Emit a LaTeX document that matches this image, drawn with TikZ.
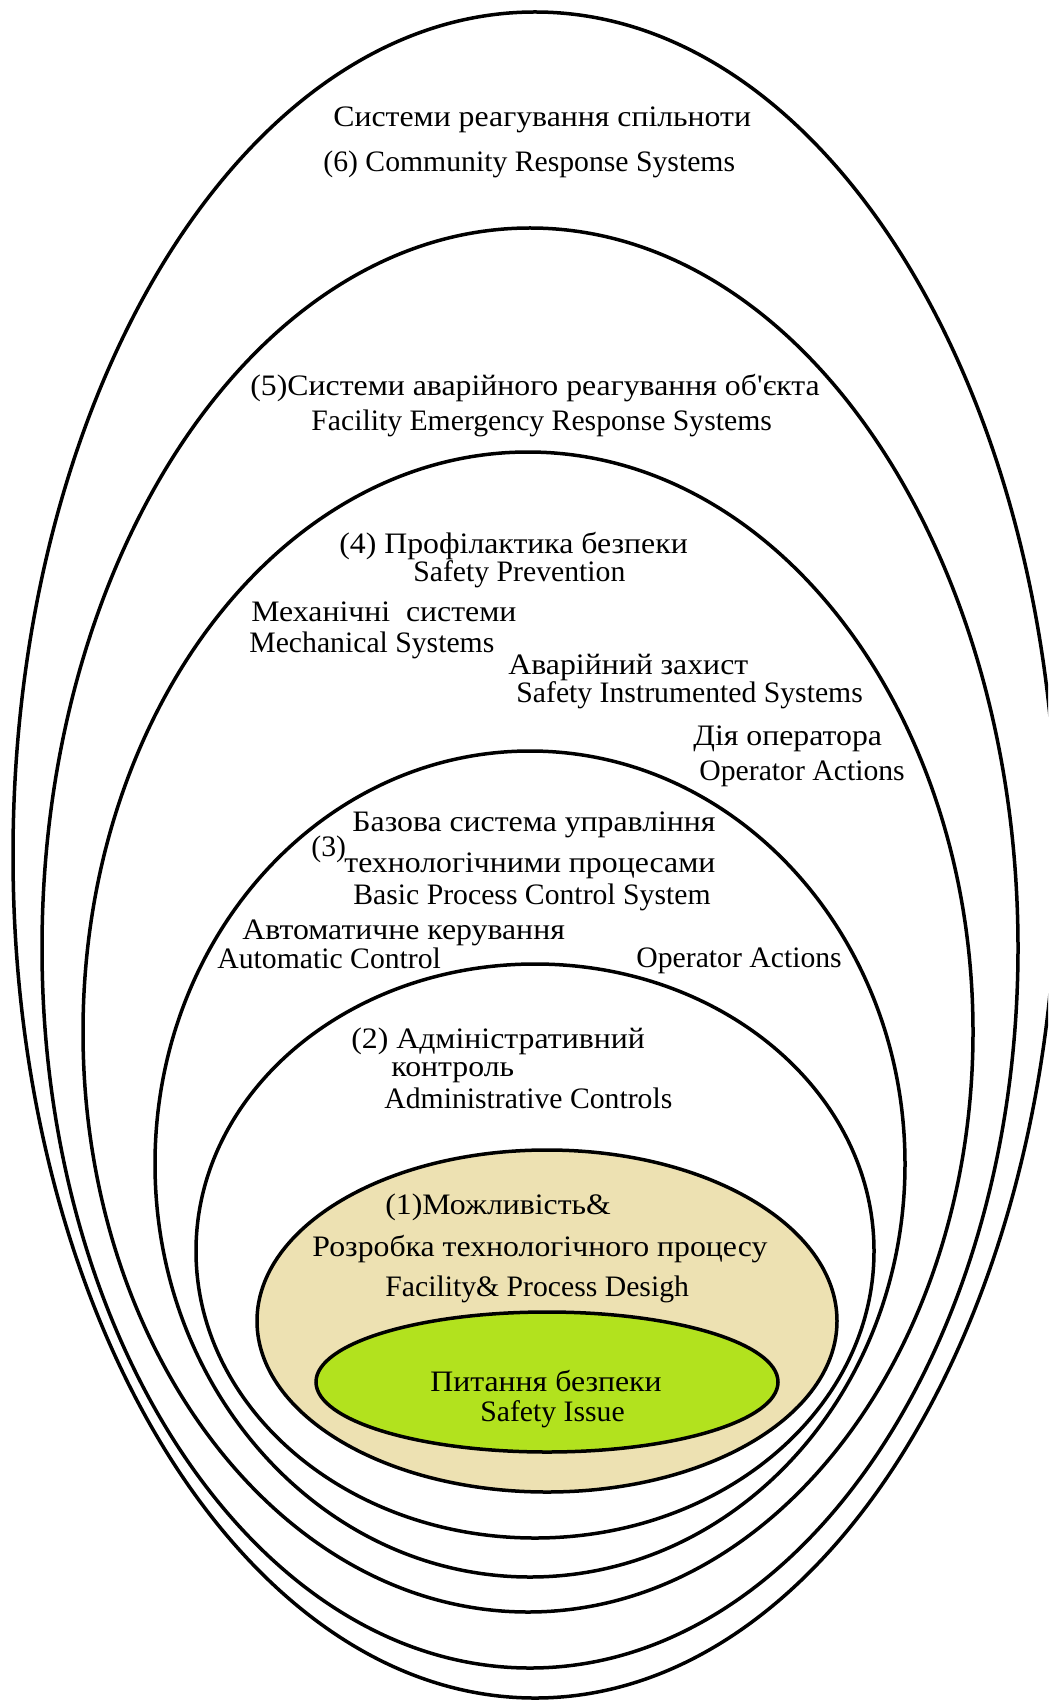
\documentclass[tikz,border=0pt]{standalone}
\usepackage{fontspec}
\setmainfont{Liberation Serif}
% Cyrillic lines are set slightly wider
\newfontfamily\cyrwide[FakeStretch=1.07]{Liberation Serif}
\usetikzlibrary{shapes.geometric}
\definecolor{layertan}{RGB}{237,225,178}
\definecolor{corelime}{RGB}{178,226,30}
\begin{document}
\begin{tikzpicture}[x=0.5pt,y=-0.5pt,
  ring/.style={draw=black, line width=1.75pt, ellipse, inner sep=0pt, outer sep=0pt},
  lbl/.style={anchor=base west, inner sep=0pt, font=\fontsize{14.85}{17}\selectfont},
  ulbl/.style={lbl, font=\fontsize{14.85}{17}\cyrwide}]
\fill[white] (0,0) rectangle (1048,1700);
\useasboundingbox (0,0) rectangle (1048,1700);
\begin{scope}
\clip (0,0) rectangle (1048,1700);
% nested protection layers, outermost first
\node[ring, minimum width=522pt, minimum height=843pt] (community) at (535,855) {};
\node[ring, minimum width=488pt, minimum height=720pt] (emergency) at (530,948) {};
\node[ring, minimum width=445pt, minimum height=580pt] (prevention) at (528,1032) {};
\node[ring, minimum width=375pt, minimum height=413pt] (bpcs) at (530,1164) {};
\node[ring, minimum width=339pt, minimum height=287pt] (admin) at (535,1251) {};
\node[ring, fill=layertan, minimum width=290pt, minimum height=171pt] (design) at (547,1321) {};
\node[ring, fill=corelime, minimum width=231pt, minimum height=70pt] (core) at (547,1382) {};
\end{scope}

% (6) community response
\node[ulbl] (t6a) at (333,127) {Системи реагування спільноти};
\node[lbl] (t6b) at (323,172) {(6) Community Response Systems};
% (5) facility emergency response
\node[ulbl] (t5a) at (250,396) {(5)Системи аварійного реагування об'єкта};
\node[lbl] (t5b) at (311,430) {Facility Emergency Response Systems};
% (4) safety prevention
\node[ulbl] (t4a) at (339,553) {(4) Профілактика безпеки};
\node[lbl] (t4b) at (413,581) {Safety Prevention};
\node[ulbl] (mech1) at (251,621) {Механічні\ \ системи};
\node[lbl] (mech2) at (249,652) {Mechanical Systems};
\node[ulbl] (sis1) at (508,674) {Аварійний захист};
\node[lbl] (sis2) at (516,702) {Safety Instrumented Systems};
\node[ulbl] (op1) at (693,745) {Дія оператора};
\node[lbl] (op2) at (699,780) {Operator Actions};
% (3) basic process control
\node[ulbl] (t3a) at (352,831) {Базова система управління};
\node[lbl] (t3n) at (311,856) {(3)};
\node[ulbl] (t3b) at (344,872) {технологічними процесами};
\node[lbl] (t3c) at (353,904) {Basic Process Control System};
\node[ulbl] (auto1) at (242,939) {Автоматичне керування};
\node[lbl] (auto2) at (217,968) {Automatic Control};
\node[lbl] (op3) at (636,967) {Operator Actions};
% (2) administrative controls
\node[ulbl] (t2a) at (351,1048) {(2) Адміністративний};
\node[ulbl] (t2b) at (391,1076) {контроль};
\node[lbl] (t2c) at (384,1108) {Administrative Controls};
% (1) facility and process design
\node[ulbl] (t1a) at (385,1214) {(1)Можливість\&};
\node[ulbl] (t1b) at (312,1256) {Розробка технологічного процесу};
\node[lbl] (t1c) at (385,1296) {Facility\& Process Desigh};
% core
\node[ulbl] (c1) at (430,1391) {Питання безпеки};
\node[lbl] (c2) at (480,1421) {Safety Issue};
\end{tikzpicture}
\end{document}
